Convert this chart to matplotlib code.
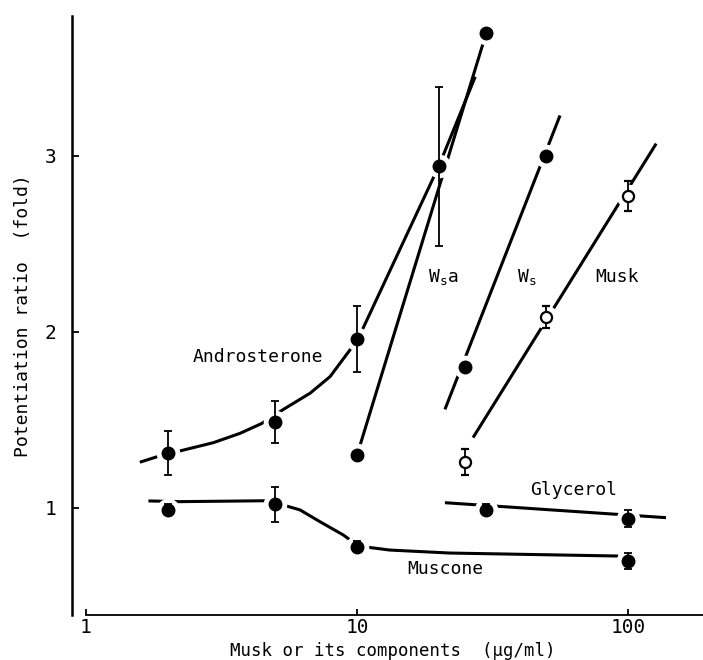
import matplotlib
matplotlib.use('Agg')
import matplotlib.pyplot as plt
from matplotlib.ticker import FixedLocator, NullLocator, FixedFormatter

plt.rcParams['font.family'] = ['DejaVu Sans Mono']
plt.rcParams['mathtext.fontset'] = 'custom'
plt.rcParams['mathtext.rm'] = 'DejaVu Sans Mono'

# measured points (x in ug/ml, y = potentiation ratio)
andro_x = [2, 5, 10, 20]
andro_y = [1.31, 1.49, 1.96, 2.94]
andro_err = [0.125, 0.12, 0.185, 0.45]

wsa_x = [10, 30]
wsa_y = [1.30, 3.70]

ws_x = [25, 50]
ws_y = [1.80, 3.00]

musk_x = [25, 50, 100]
musk_y = [1.26, 2.085, 2.77]
musk_err = [0.075, 0.065, 0.085]

glyc_x = [30, 100]
glyc_y = [0.99, 0.94]
glyc_err = [0.03, 0.05]

muscone_x = [2, 5, 10, 100]
muscone_y = [0.99, 1.02, 0.78, 0.70]
muscone_err = [0.03, 0.10, 0.03, 0.045]

# hand-drawn fitted curves
andro_curve_x = [1.58, 1.82, 2.22, 2.95, 3.70, 4.45, 5.35, 6.71, 7.95, 9.44, 10.05, 20, 27.3]
andro_curve_y = [1.26, 1.29, 1.324, 1.371, 1.424, 1.48, 1.56, 1.652, 1.746, 1.90, 1.955, 2.94, 3.45]
wsa_curve_x = [10, 30]
wsa_curve_y = [1.30, 3.70]
ws_curve_x = [21.1, 56.1]
ws_curve_y = [1.56, 3.23]
musk_curve_x = [26.8, 127]
musk_curve_y = [1.40, 3.07]
glyc_curve_x = [21.1, 138]
glyc_curve_y = [1.03, 0.945]
muscone_curve_x = [1.7, 2.22, 4.58, 5.0, 5.5, 6.16, 7.3, 8.89, 10, 11.2, 13.2, 22, 92]
muscone_curve_y = [1.04, 1.036, 1.041, 1.03, 1.011, 0.989, 0.922, 0.847, 0.79, 0.775, 0.761, 0.744, 0.727]

x_ticks = [1, 10, 100]
x_ticklabels = ['1', '10', '100']
y_ticks = [1, 2, 3]
y_ticklabels = ['1', '2', '3']

fig = plt.figure(figsize=(7.03, 6.60), dpi=100)
ax = fig.add_axes([72 / 703, 45 / 660, 631 / 703, 599 / 660])
ax.set_xscale('log')
ax.set_xlim(0.888, 189)
ax.set_ylim(0.392, 3.795)

lw = 2.2
for cx, cy in [(andro_curve_x, andro_curve_y), (wsa_curve_x, wsa_curve_y),
               (ws_curve_x, ws_curve_y), (musk_curve_x, musk_curve_y),
               (glyc_curve_x, glyc_curve_y), (muscone_curve_x, muscone_curve_y)]:
    ax.plot(cx, cy, color='black', lw=lw, solid_capstyle='butt',
            solid_joinstyle='round', zorder=2)

# white halos so the lines break around every point, like the original drawing
all_x = andro_x + wsa_x + ws_x + musk_x + glyc_x + muscone_x
all_y = andro_y + wsa_y + ws_y + musk_y + glyc_y + muscone_y
ax.plot(all_x, all_y, 'o', ms=17, mfc='white', mec='none', zorder=3)

ekw = dict(fmt='o', color='black', ms=9, elinewidth=1.3, capsize=3,
           capthick=1.3, zorder=4)
ax.errorbar(andro_x, andro_y, yerr=andro_err, **ekw)
ax.errorbar(glyc_x, glyc_y, yerr=glyc_err, **ekw)
ax.errorbar(muscone_x, muscone_y, yerr=muscone_err, **ekw)
ax.plot(wsa_x, wsa_y, 'o', color='black', ms=9, zorder=4)
ax.plot(ws_x, ws_y, 'o', color='black', ms=9, zorder=4)
ax.errorbar(musk_x, musk_y, yerr=musk_err, fmt='o', color='black', ms=8,
            mfc='white', mec='black', mew=1.6, elinewidth=1.3, capsize=3,
            capthick=1.3, zorder=4)

tfs = 13
ax.text(2.48, 1.86, 'Androsterone', fontsize=tfs, va='center')
ax.text(18.3, 2.31, r'W$_{\rm s}$a', fontsize=tfs, va='center')
ax.text(38.9, 2.31, r'W$_{\rm s}$', fontsize=tfs, va='center')
ax.text(75.6, 2.31, 'Musk', fontsize=tfs, va='center')
ax.text(43.5, 1.10, 'Glycerol', fontsize=tfs, va='center')
ax.text(15.3, 0.653, 'Muscone', fontsize=tfs, va='center')

for s in ['top', 'right']:
    ax.spines[s].set_visible(False)
ax.spines['left'].set_linewidth(1.8)
ax.spines['bottom'].set_linewidth(1.3)
ax.spines['bottom'].set_bounds(1, 189)

ax.xaxis.set_major_locator(FixedLocator(x_ticks))
ax.xaxis.set_major_formatter(FixedFormatter(x_ticklabels))
ax.xaxis.set_minor_locator(NullLocator())
ax.yaxis.set_major_locator(FixedLocator(y_ticks))
ax.yaxis.set_major_formatter(FixedFormatter(y_ticklabels))
ax.tick_params(axis='x', direction='in', length=4, width=1.3, pad=2, labelsize=14)
ax.tick_params(axis='y', direction='in', length=5, width=1.3, pad=11, labelsize=14)

ax.set_xlabel('Musk or its components  (\u03bcg/ml)', fontsize=12.5)
ax.xaxis.set_label_coords(0.509, -0.045)
ax.set_ylabel('Potentiation ratio  (fold)', fontsize=13)
ax.yaxis.set_label_coords(-0.0634, 0.5)

fig.savefig('out.png', dpi=100)
